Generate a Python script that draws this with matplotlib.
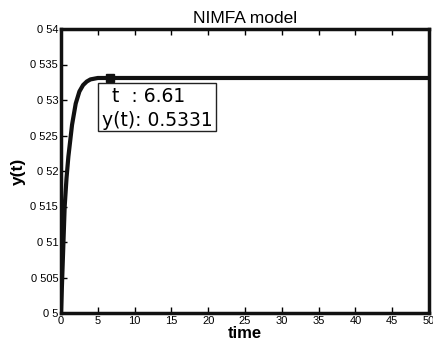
import matplotlib
matplotlib.use("Agg")
import matplotlib.pyplot as plt

t_vals = [0, 0.25, 0.5, 0.75, 1.0, 1.5, 2.0, 2.5, 3.0, 3.5, 4.0, 5.0, 6.61, 50]
y_vals = [0.5, 0.5075, 0.515, 0.519, 0.522, 0.5265, 0.5295, 0.5312, 0.5321,
          0.5326, 0.5329, 0.5331, 0.5331, 0.5331]
tip_t = 6.61
tip_y = 0.5331
xticks = [0, 5, 10, 15, 20, 25, 30, 35, 40, 45, 50]
yticks = [0.5, 0.505, 0.51, 0.515, 0.52, 0.525, 0.53, 0.535, 0.54]
ytick_labels = ["0 5", "0 505", "0 51", "0 515", "0 52", "0 525", "0 53", "0 535", "0 54"]

plt.rcParams['font.family'] = ['Liberation Sans', 'DejaVu Sans']
fig = plt.figure(figsize=(4.33, 3.49), dpi=100)
ax = fig.add_axes([61/433, 36/349, 368/433, 284/349])
ax.plot(t_vals, y_vals, color='#111111', lw=3)
ax.plot([tip_t], [tip_y], marker='s', color='#111111', ms=6)
ax.set_xlim(0, 50)
ax.set_ylim(0.5, 0.54)
ax.set_xticks(xticks)
ax.set_xticklabels([str(v) for v in xticks], fontsize=8)
ax.set_yticks(yticks)
ax.set_yticklabels(ytick_labels, fontsize=8)
ax.tick_params(direction='in', length=4, width=1, top=True, right=False, pad=2)
for s in ax.spines.values():
    s.set_linewidth(2.5)
    s.set_color('#111111')
ax.set_title("NIMFA model", fontsize=12.5, pad=4)
ax.set_xlabel("time", fontsize=12, fontweight='bold', labelpad=0)
ax.set_ylabel("y(t)", fontsize=12.5, fontweight='bold', labelpad=3)

# data tip box
box = plt.Rectangle((98/433, 1 - 131/349), 118/433, 48/349, transform=fig.transFigure,
                    fc='white', ec='#222222', lw=1, zorder=5)
fig.add_artist(box)
fig.text(112/433, 1 - 97/349, "t  : 6.61", fontsize=13.5, family=['DejaVu Sans'],
         va='center', ha='left', zorder=6)
fig.text(102/433, 1 - 120/349, "y(t): 0.5331", fontsize=13.5, family=['DejaVu Sans'],
         va='center', ha='left', zorder=6)
fig.savefig("out.png", dpi=100)
